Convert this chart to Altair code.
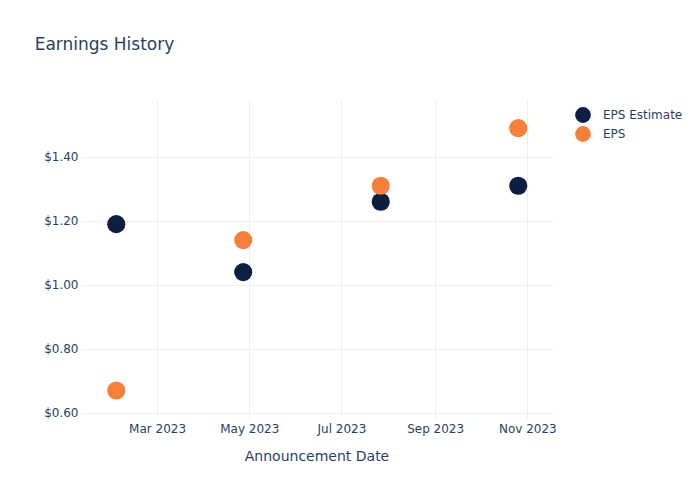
import altair as alt
import pandas as pd

dates = ["2023-02-02", "2023-04-27", "2023-07-27", "2023-10-26"]
eps_estimate = [1.19, 1.04, 1.26, 1.31]
eps_actual = [0.67, 1.14, 1.31, 1.49]
series_names = ["EPS Estimate", "EPS"]
series_colors = ["#0c1f42", "#f5803a"]
tick_dates = [(2023, 3, 1), (2023, 5, 1), (2023, 7, 1), (2023, 9, 1), (2023, 11, 1)]
y_ticks = [0.6, 0.8, 1.0, 1.2, 1.4]

rows = []
for d, e, a in zip(dates, eps_estimate, eps_actual):
    rows.append({"date": d, "series": series_names[0], "value": e})
    rows.append({"date": d, "series": series_names[1], "value": a})
df = pd.DataFrame(rows)

FONT = "DejaVu Sans"
TXT = "#2a3f5f"
GRID = "#ebf0f8"

x_vals = [alt.DateTime(year=y, month=m, date=dd, utc=True) for y, m, dd in tick_dates]

chart = alt.Chart(df).mark_circle(size=330, opacity=1).encode(
    x=alt.X("date:T", title="Announcement Date",
            scale=alt.Scale(type="utc",
                            domain=[alt.DateTime(year=2023, month=1, date=9, utc=True),
                                    alt.DateTime(year=2023, month=11, date=18, utc=True)]),
            axis=alt.Axis(values=x_vals, format="%b %Y", labelAngle=0)),
    y=alt.Y("value:Q", title=None,
            scale=alt.Scale(domain=[0.584, 1.578], nice=False, zero=False),
            axis=alt.Axis(values=y_ticks, format="$.2f")),
    color=alt.Color("series:N", title=None,
                    scale=alt.Scale(domain=series_names, range=series_colors),
                    legend=alt.Legend(orient="none", legendX=494, legendY=6,
                                      symbolSize=250, symbolType="circle",
                                      labelFont=FONT, labelFontSize=12, labelColor=TXT,
                                      labelOffset=11, rowPadding=2)),
    order=alt.Order("series:N", sort="descending"),
).properties(
    width=473, height=318,
    title=alt.TitleParams("Earnings History", anchor="start", dx=-9, dy=-42,
                          font=FONT, fontSize=17, fontWeight="normal", color=TXT),
    autosize=alt.AutoSizeParams(type="none"),
    padding={"left": 80, "top": 100, "right": 147, "bottom": 82},
).configure_view(stroke=None).configure_axis(
    domain=False, ticks=False, grid=True, gridColor=GRID, gridWidth=1,
    labelFont=FONT, labelFontSize=12, labelColor=TXT,
    titleFont=FONT, titleFontSize=14, titleColor=TXT, titleFontWeight="normal",
).configure_axisX(labelPadding=5, titlePadding=15).configure_axisY(labelPadding=2)

chart.save("out.html", embed_options={"renderer": "svg", "actions": False})
